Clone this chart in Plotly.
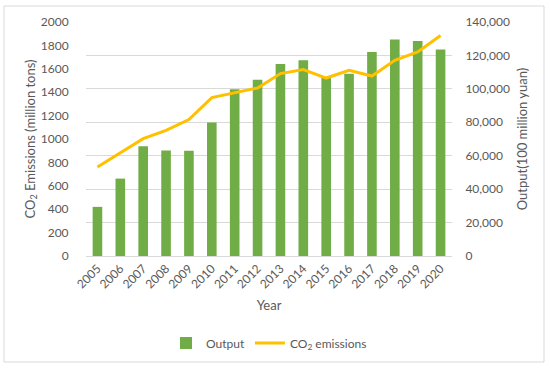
import plotly.graph_objects as go

years = [str(y) for y in range(2005, 2021)]
output_values = [29400, 46300, 65600, 63100, 63000, 79800, 99700, 105500,
                 114900, 117100, 106700, 109100, 122000, 129500, 128700, 123500]
co2_values = [761, 880, 1003, 1074, 1166, 1354, 1393, 1436,
              1559, 1593, 1521, 1587, 1538, 1673, 1744, 1884]

font = "Lato, 'Liberation Sans', sans-serif"
txt = "#595959"

fig = go.Figure()
fig.add_trace(go.Bar(x=years, y=output_values, name="Output", yaxis="y",
                     marker=dict(color="#70AD47", line=dict(width=0))))
fig.add_trace(go.Scatter(x=years, y=co2_values, name="CO<sub>2</sub> emissions", yaxis="y2",
                         mode="lines", line=dict(color="#FFC000", width=3)))

L, R, T, B = 86, 452, 22, 256
W, H = 550, 368

fig.update_layout(
    width=W, height=H,
    margin=dict(l=L, r=W - R, t=T, b=H - B, pad=0, autoexpand=False),
    paper_bgcolor="white", plot_bgcolor="white",
    font=dict(family=font, color=txt, size=12),
    bargap=0.58,
    showlegend=True,
    legend=dict(orientation="h", x=0.5, xanchor="center", y=-0.31, yanchor="top",
                font=dict(size=12, color=txt), itemwidth=30, traceorder="normal"),
    xaxis=dict(type="category", tickangle=-45, showgrid=False, showline=True,
               linecolor="#D9D9D9", linewidth=1, ticks="", automargin=False,
               title=dict(text="Year", font=dict(size=13, color=txt), standoff=10),
               tickfont=dict(size=12, color=txt)),
    yaxis=dict(side="right", range=[0, 140000], dtick=20000, tickformat=",",
               showgrid=True, gridcolor="#D9D9D9", gridwidth=1, zeroline=False,
               ticks="outside", ticklen=10, tickcolor="rgba(0,0,0,0)", automargin=False,
               title=dict(text="Output(100 million yuan)", font=dict(size=13, color=txt), standoff=8),
               tickfont=dict(size=12, color=txt)),
    yaxis2=dict(side="left", overlaying="y", range=[0, 2000], dtick=200,
                showgrid=False, zeroline=False, automargin=False,
                ticks="outside", ticklen=14, tickcolor="rgba(0,0,0,0)",
                title=dict(text="CO<sub>2</sub> Emissions (million tons)", font=dict(size=13, color=txt), standoff=2),
                tickfont=dict(size=12, color=txt)),
)

pw, ph = R - L, B - T
fig.add_shape(type="rect", xref="paper", yref="paper",
              x0=(4 - L) / pw, x1=(544 - L) / pw,
              y0=(B - 362) / ph, y1=(B - 6) / ph,
              line=dict(color="#D9D9D9", width=1), fillcolor="rgba(0,0,0,0)", layer="below")

fig.write_html("out.html", config={"displayModeBar": False},
               post_script="document.body.style.margin='0';")
